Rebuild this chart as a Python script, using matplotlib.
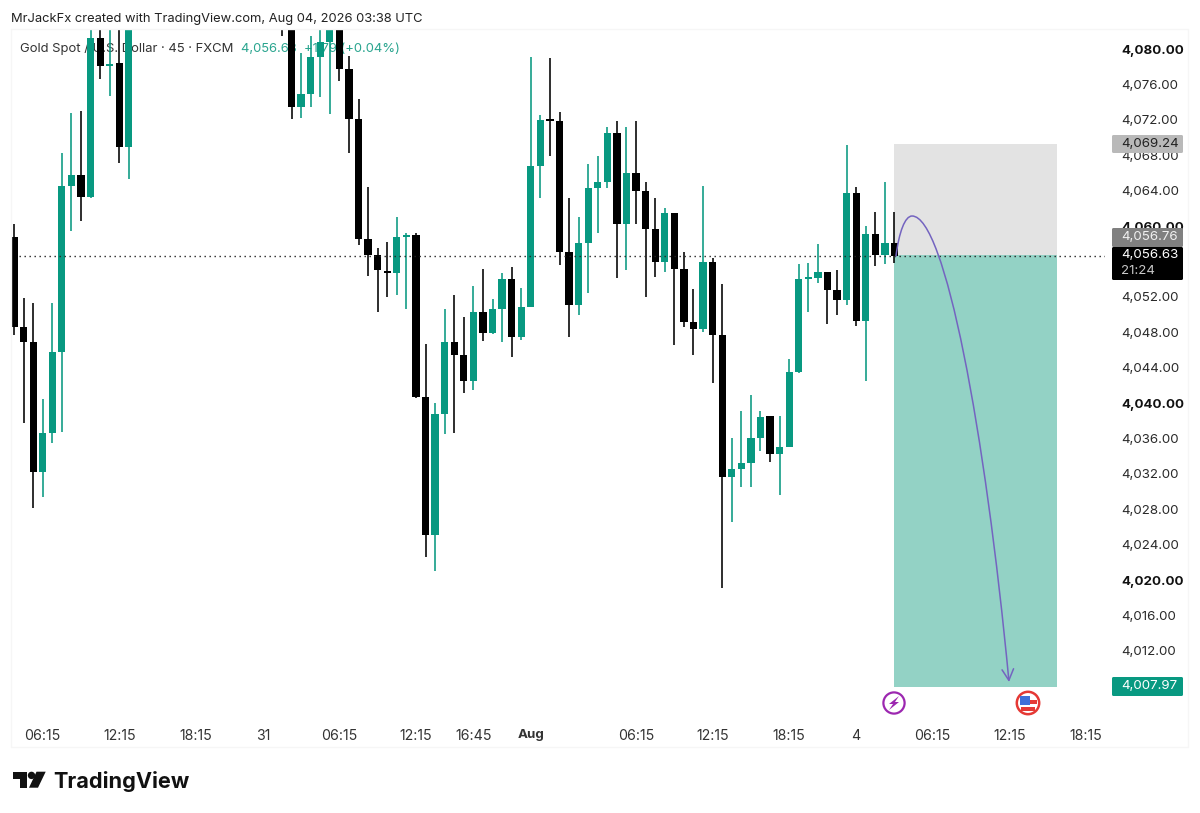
import matplotlib
matplotlib.use("Agg")
import matplotlib.pyplot as plt
import numpy as np
from matplotlib.patches import FancyBboxPatch, Rectangle, Circle, Polygon, FancyArrowPatch
from matplotlib.path import Path
from matplotlib.transforms import Affine2D

plt.rcParams['font.family'] = ['Inter', 'DejaVu Sans']
nan = float('nan')

# ---------------- data (prices) ----------------
opens = [4058.8,4048.6,4046.9,4032.2,4036.6,4045.8,4064.5,4065.8,4063.3,4081.3,4078.1,4078.4,4068.9,
         nan,nan,nan,nan,nan,nan,nan,nan,nan,nan,nan,nan,nan,nan,nan,
         4090.0,4086.0,4073.5,4074.9,4079.1,4080.8,4084.0,4077.8,4072.1,4058.6,4056.7,4054.9,4054.7,4058.8,
         4059.0,4040.7,4025.1,4038.8,4046.9,4045.4,4042.5,4050.3,4047.9,4050.6,4054.0,4047.5,4050.9,4066.8,
         4072.0,4071.9,4057.1,4051.1,4058.1,4064.3,4065.0,4070.5,4060.2,4066.0,4064.0,4059.7,4056.0,4061.5,
         4055.2,4049.2,4048.4,4056.0,4047.7,4031.7,4032.6,4033.2,4036.1,4038.5,4034.3,4035.1,4043.5,4054.0,
         4054.1,4054.8,4052.8,4051.7,4063.8,4049.3,4059.1,4056.7,4058.1]
highs = [4060.2,4051.9,4051.3,4040.5,4051.3,4068.3,4072.8,4073.0,4085.0,4084.0,4084.0,4084.0,4088.0,
         nan,nan,nan,nan,nan,nan,nan,nan,nan,nan,nan,nan,nan,nan,nan,
         4091.0,4088.0,4079.6,4081.5,4084.0,4085.0,4085.0,4079.2,4074.4,4064.4,4057.5,4058.2,4061.0,4059.2,
         4059.2,4046.7,4040.0,4050.6,4052.2,4049.7,4053.2,4055.2,4051.8,4054.7,4055.4,4053.0,4079.1,4072.6,
         4079.0,4072.9,4063.2,4061.0,4067.0,4067.9,4071.2,4071.9,4071.2,4071.9,4065.0,4063.2,4062.1,4061.5,
         4057.1,4052.9,4064.5,4056.4,4053.5,4036.1,4039.1,4040.9,4039.1,4038.6,4038.5,4045.0,4055.7,4055.8,
         4058.0,4054.8,4055.0,4069.2,4064.4,4060.0,4061.6,4065.0,4061.6]
lows = [4047.7,4037.8,4028.2,4029.4,4035.5,4036.7,4059.5,4060.6,4063.2,4076.6,4074.7,4067.1,4065.3,
        nan,nan,nan,nan,nan,nan,nan,nan,nan,nan,nan,nan,nan,nan,nan,
        4081.5,4072.1,4072.2,4073.5,4074.6,4072.7,4076.4,4068.3,4057.9,4054.4,4050.3,4052.0,4052.2,4050.6,
        4040.6,4022.6,4021.0,4036.5,4036.6,4041.2,4041.5,4047.0,4047.8,4046.9,4045.2,4047.1,4050.9,4063.2,
        4067.9,4055.6,4047.5,4050.0,4052.4,4059.2,4064.3,4054.1,4055.0,4060.2,4052.0,4054.3,4054.8,4046.6,
        4048.6,4045.4,4048.0,4042.3,4019.1,4026.6,4030.5,4030.5,4034.6,4033.4,4029.6,4035.0,4043.4,4050.3,
        4053.6,4048.9,4050.0,4051.1,4048.7,4042.5,4055.5,4055.7,4055.8]
closes = [4048.6,4046.9,4032.2,4036.6,4045.8,4064.5,4065.8,4063.3,4081.3,4078.1,4078.3,4068.9,4086.0,
          nan,nan,nan,nan,nan,nan,nan,nan,nan,nan,nan,nan,nan,nan,nan,
          4088.0,4073.5,4074.9,4079.1,4080.8,4083.5,4077.8,4072.1,4058.6,4056.7,4055.0,4054.7,4058.8,4059.0,
          4040.7,4025.1,4038.8,4046.9,4045.4,4042.5,4050.3,4047.9,4050.6,4054.0,4047.5,4050.9,4066.8,4072.0,
          4071.9,4057.1,4051.1,4058.1,4064.3,4065.0,4070.5,4060.2,4066.0,4064.0,4059.7,4056.0,4061.5,4055.2,
          4049.2,4048.4,4056.0,4047.7,4031.7,4032.6,4033.2,4036.1,4038.4,4034.3,4035.1,4043.5,4054.0,4054.3,
          4054.8,4052.8,4051.7,4063.8,4049.3,4059.1,4056.8,4058.1,4056.63]

price_ticks = [4012,4016,4020,4024,4028,4032,4036,4040,4044,4048,4052,4056,4060,4064,4068,4072,4076,4080]
hidden_price_ticks = [4056]
time_ticks = [3,11,19,26,34,42,48,54,65,73,81,88,96,104,112]
time_labels = ['06:15','12:15','18:15','31','06:15','12:15','16:45','Aug','06:15','12:15','18:15','4','06:15','12:15','18:15']

last_price = 4056.63
entry_price = 4056.76
stop_price = 4069.24
target_price = 4007.97
position_start, position_end = 92, 109

curve_x = [92.16, 92.48, 93.10, 93.84, 97.28, 101.46, 103.97]
curve_y = [4056.63, 4059.34, 4061.15, 4061.15, 4061.15, 4036.97, 4008.49]

GREEN = '#089981'
W, H = 1200, 813
fig = plt.figure(figsize=(12, 8.13), dpi=100, facecolor='white')
L, R, T, B = 12, 1105, 30, 722
ax = fig.add_axes([L/W, 1-B/H, (R-L)/W, (B-T)/H])
ax.set_xlim(-0.21, 114.0)
ax.set_ylim(4003.97, 4082.17)
for s in ax.spines.values():
    s.set_visible(False)
px = Affine2D().scale(1, -1).translate(0, H)   # top-left pixel coordinates

# frame
fig.add_artist(Rectangle((11, 29), 1177, 718, transform=px, fill=False, ec='#f6f6f6', lw=1))

# position boxes
ax.axhspan(entry_price, stop_price, xmin=(position_start+0.21)/114.21, xmax=(position_end+0.21)/114.21,
           color='#e3e3e3', lw=0, zorder=1)
ax.axhspan(target_price, entry_price, xmin=(position_start+0.21)/114.21, xmax=(position_end+0.21)/114.21,
           color='#93d2c5', lw=0, zorder=1)

# header legend (under candles)
ax.text(20, 48.5, 'Gold Spot / U.S. Dollar · 45 · FXCM', transform=px, fontsize=9.4, color='#333333',
        va='center', ha='left', zorder=2, clip_on=False)
ax.text(241, 48.5, '4,056.63  +1.79 (+0.04%)', transform=px, fontsize=9.35, color='#2aa58f',
        va='center', ha='left', zorder=2, clip_on=False)
fig.text(11/W, 1-19/H, 'MrJackFx created with TradingView.com, Aug 04, 2026 03:38 UTC', fontsize=9.3,
         color='#222222', va='center', ha='left')

# candles
o, h, l, c = map(np.array, (opens, highs, lows, closes))
idx = np.arange(len(o))
up = c >= o
cols = np.where(up, GREEN, '#000000')
valid = ~np.isnan(o)
ax.vlines(idx[valid], l[valid], h[valid], colors=cols[valid], lw=1.15, zorder=3)
ax.bar(idx[valid], np.maximum(np.abs(c-o)[valid], 0.18), bottom=np.minimum(o, c)[valid], width=0.76,
       color=cols[valid], lw=0, zorder=4)

# last price line
ax.plot([0.52, 114], [last_price, last_price], color='#222222', lw=1.0, ls=(0, (1, 2.6)), zorder=5)

# purple projection
codes = [Path.MOVETO] + [Path.CURVE4]*6
path = Path(np.column_stack([curve_x, curve_y]), codes)
ax.add_patch(FancyArrowPatch(path=path, arrowstyle='->,head_length=5,head_width=2.6', color='#7464c0',
                             lw=1.1, zorder=6, clip_on=False, mutation_scale=1.6))

# axes ticks
ax.yaxis.tick_right()
ax.set_yticks(price_ticks)
ax.set_yticklabels([f'{p:,.2f}' for p in price_ticks])
ax.tick_params(axis='y', length=0, pad=11.5, labelsize=9.6, labelcolor='#2a2a2a')
for t, p in zip(ax.get_yticklabels(), price_ticks):
    t.set_verticalalignment('center_baseline')
    if p % 20 == 0:
        t.set_fontweight('bold')
        t.set_color('#111111')
    if p in hidden_price_ticks:
        t.set_visible(False)
ax.set_xticks(time_ticks)
ax.set_xticklabels(time_labels)
ax.tick_params(axis='x', length=0, pad=5, labelsize=10.2, labelcolor='#333333')
for t, s in zip(ax.get_xticklabels(), time_labels):
    if s == 'Aug':
        t.set_fontweight('bold')
        t.set_fontsize(9.6)

# price labels
def price_box(y0, y1, fc):
    ax.add_patch(FancyBboxPatch((1112, y0), 71, y1-y0, boxstyle='round,pad=0,rounding_size=1.5', transform=px,
                                fc=fc, ec='none', zorder=10, clip_on=False))
def price_text(y, s, col):
    ax.text(1121, y, s, transform=px, fontsize=9.6, color=col, va='center', ha='left', zorder=11, clip_on=False)
price_box(135, 153, '#b9b9b9'); price_text(144, f'{stop_price:,.2f}', '#222222')
price_box(228, 247, '#808080'); price_text(237, f'{entry_price:,.2f}', '#f0f0f0')
price_box(247, 280, '#000000'); price_text(255, f'{last_price:,.2f}', '#ffffff'); price_text(271, '21:24', '#c8c8c8')
price_box(677, 696, GREEN);     price_text(686, f'{target_price:,.2f}', '#ffffff')

# event icons
ax.add_patch(Circle((894, 703), 10.6, transform=px, fc='white', ec='#9c27b0', lw=1.6, zorder=10, clip_on=False))
ax.add_patch(Polygon([(899,696),(889,704),(893,704),(889,710),(899,702),(895,702)], transform=px,
                     fc='#9c27b0', ec='none', zorder=11, clip_on=False))
ax.add_patch(Circle((1028, 703), 11.2, transform=px, fc='white', ec='#e53935', lw=1.8, zorder=10, clip_on=False))
ax.add_patch(Rectangle((1030, 699.5), 7, 4, transform=px, fc='#e53935', ec='none', zorder=11, clip_on=False))
ax.add_patch(Rectangle((1021, 707), 14, 3.6, transform=px, fc='#e53935', ec='none', zorder=11, clip_on=False))
ax.add_patch(Rectangle((1020, 695.5), 10, 9, transform=px, fc='#3f6fd8', ec='none', zorder=13, clip_on=False))

# TradingView logo
for pts in ([(13.3,771.7),(26.7,771.7),(26.7,787.7),(20,787.7),(20,779),(13.3,779)],
            [(36.5,771.7),(45.7,771.7),(38,787.7),(29,787.7)]):
    fig.add_artist(Polygon(pts, transform=px, fc='#111111', ec='none'))
fig.add_artist(Circle((31.5, 775.4), 3.7, transform=px, fc='#111111', ec='none'))
fig.text(53/W, 1-781/H, 'TradingView', fontsize=15.6, fontweight='bold', color='#111111', va='center', ha='left')

fig.savefig('out.png', dpi=100)
